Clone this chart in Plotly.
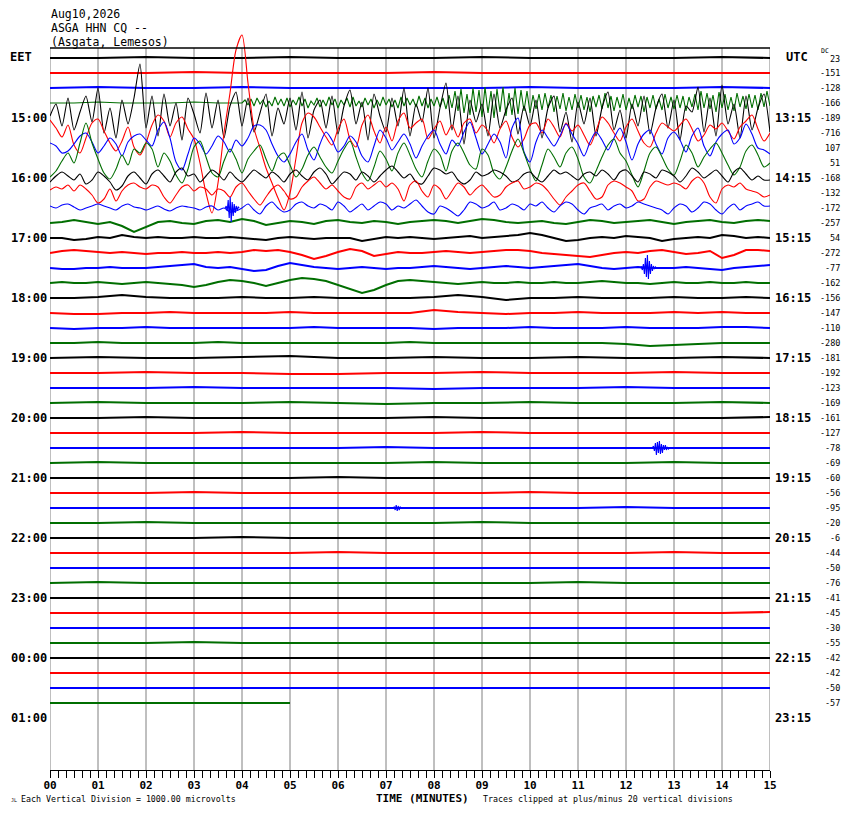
import numpy as np
import plotly.graph_objects as go

# header / label text
station_date = "Aug10,2026"
station_code = "ASGA HHN CQ --"
station_name = "(Asgata, Lemesos)"
eet_labels = ["15:00", "16:00", "17:00", "18:00", "19:00", "20:00",
              "21:00", "22:00", "23:00", "00:00", "01:00"]
utc_labels = ["13:15", "14:15", "15:15", "16:15", "17:15", "18:15",
              "19:15", "20:15", "21:15", "22:15", "23:15"]
minute_labels = ["00", "01", "02", "03", "04", "05", "06", "07",
                 "08", "09", "10", "11", "12", "13", "14", "15"]
dc_offsets = [23, -151, -128, -166, -189, -716, 107, 51, -168, -132, -172,
              -257, 54, -272, -77, -162, -156, -147, -110, -280, -181, -192,
              -123, -169, -161, -127, -78, -69, -60, -56, -95, -20, -6, -44,
              -50, -76, -41, -45, -30, -55, -42, -42, -50, -57]

# trace samples (pixels of deflection, up = positive)
row_00 = [0, 0, 1, 0, 0, 1, 0, 0, 0, 1, 0, 0, 0, 0, 1, 0]
row_01 = [0, 0, 0, 1, 0, 0, 0, 0, 1, 0, 0, 0, 0, 0, 0, 0]
row_02 = [0, 1, 0, 0, 1, 0, 0, 0, 0, 0, 1, 0, 0, 0, 1, 0]
row_03_quiet = [0, 0, 1, 0, 0, 0, 1, 0, 0]
row_03_noise = [
    0, 3, -2, 4, -3, 5, -1, 3, -4, 2, -3, 6, -2, 4, -3, 5,
    -4, 3, -2, 6, -3, 4, -5, 2, -2, 5, -4, 3, -3, 6, -2, 4,
    -5, 3, -2, 5, -4, 6, -3, 2, -4, 5, -2, 4, -5, 3, -3, 6,
    -2, 4, -4, 3, -5, 6, -3, 5, -2, 4, -4, 7, -3, 5, -5, 4,
    -3, 6, -4, 5, -6, 8, -5, 12, -8, 14, -10, 9, -12, 15, -9, 13,
    -14, 16, -10, 12, -15, 14, -9, 16, -13, 10, -12, 15, -11, 13, -8, 12,
    -10, 8, -6, 9, -7, 10, -5, 8, -9, 7, -6, 10, -8, 6, -7, 9,
    -5, 8, -7, 6, -9, 7, -4, 8, -6, 10, -5, 7, -8, 6, -5, 9,
    -7, 5, -6, 8, -4, 7, -9, 6, -5, 8, -6, 4, -7, 9, -5, 6,
    -6, 8, -5, 7, -8, 6, -4, 9, -7, 12, -5, 10, -6, 8, -9, 11,
    -5, 9, -7, 6, -8, 10, -4, 7, -6, 9, -5, 8, -7, 10, -4, 12,
    -3]
row_04 = [
    2, 14, -8, 20, -12, 6, 22, -4,
    30, -15, 10, -20, 18, -6, 20, 54,
    -10, 22, -18, 24, -8, 15, -22, 20,
    4, -15, 25, -10, 18, -20, 12, 26,
    -8, 20, -14, 5, 24, -18, 10, -6,
    20, -12, 26, -20, 8, 18, -10, 22,
    -16, 12, 28, -6, 16, -22, 24, 2,
    -14, 20, -8, 30, -18, 14, -4, 30,
    -20, 10, 35, -12, 22, -26, 18, -4,
    14, -18, 24, -10, 8, 20, -16, 12,
    -8, 18, -20, 10, 22, -14, 6, -24,
    16, -6, 20, -18, 10, 26, -12, 8,
    -20, 14, -8, 22, -16, 10, 24, -10,
    18, -22, 12, 6, 31, -14, 20, -18,
    33, -6, 14, -20, 22, -12, 10, 24,
    -14]
row_05 = [
    13, 5, -4, 8, -12, -20, -5, 10,
    14, 2, -10, -18, -8, 6, -14, -22,
    -10, 8, 18, 12, -4, 10, 16, 4,
    -6, -30, -60, -80, -50, 0, 40, 83,
    98, 50, 5, -15, -35, -50, -65, -77,
    -60, -25, 10, 20, 16, 6, -4, -12,
    4, 14, -6, -14, 8, 18, 2, -10,
    6, -8, 12, 20, 5, 10, 14, -6,
    4, 12, -2, 8, -4, 10, 14, 0,
    8, 2, -10, 4, 12, -4, -14, -6,
    8, 10, 0, 14, 6, -4, 10, 2,
    8, -2, -12, 2, 16, 10, 0, -8,
    6, 14, 2, -10, -14, 0, 10, 6,
    2, 8, 14, 4, -8, -2, 8, 4,
    10, 2, -6, 6, 12, 18, 4, -8,
    0]
row_06 = [
    5, 2, -5, -3, 4, 12, 15, 6,
    -5, 2, 10, 4, -8, 6, 12, 14,
    8, 2, 18, 26, 10, -14, -22, -6,
    10, 4, -6, 2, 12, 6, -4, 8,
    2, 10, 22, 23, 18, 4, -8, -14,
    -6, 6, 14, -2, -12, 4, 16, 8,
    -4, 2, 12, 6, -8, -14, 2, 18,
    10, -2, 6, 14, 4, -10, 2, 12,
    18, 4, -6, 8, 2, 16, 26, 10,
    -6, 4, 14, 6, -10, 20, 30, -4,
    -14, 6, 18, 10, 2, 12, 24, 14,
    4, -8, 6, 16, 8, -2, 10, 20,
    6, -12, 4, 14, 18, 4, -6, 10,
    16, 8, -4, 12, 20, 2, -8, 6,
    14, 18, 4, 10, 24, 14, 0, -2,
    -6]
row_07 = [
    -14, -8, 2, 10, 0, 20, 40, 20,
    4, -10, -16, -6, 8, -2, 14, 10,
    20, 14, -4, 10, 2, -12, -20, -6,
    16, 22, 6, -10, -14, 2, 14, 4,
    -10, 4, 12, 18, 4, -8, 6, 10,
    -2, -14, -6, 8, 16, 6, -4, -10,
    2, 14, 22, 6, -10, -18, -4, 12,
    4, -8, 10, 20, 8, -6, -14, 2,
    14, 8, -8, 12, 20, 10, -2, -6,
    14, 8, -10, -16, -4, 12, 24, 10,
    -6, -18, -2, 14, 6, -4, 10, 16,
    4, -14, -20, -8, 6, 18, 24, 10,
    2, -12, -24, -8, 10, 16, 6, -6,
    -12, 2, 18, 10, -4, 6, 14, 20,
    10, -2, -12, -4, 12, 18, 8, -4,
    0]
row_08 = [
    -4, 2, 6, 2, -2, 4, -6, -2,
    6, 2, -4, -12, -8, 2, 6, 0,
    -6, 4, 8, 2, -4, 6, 10, 2,
    4, -4, 2, 8, 4, -2, 6, 0,
    -4, 2, 8, 4, 0, 6, 2, -4,
    4, 8, 2, -2, 6, 10, 4, -6,
    0, 6, 4, -2, 6, 2, -4, 2,
    8, 12, 6, 0, 4, -4, -6, 2,
    10, 8, 4, 6, -2, -6, -2, 6,
    2, 4, 8, 6, 2, -4, -2, 4,
    6, 0, -4, 2, 8, 4, 6, 2,
    -2, 4, 6, 2, 8, 4, -2, 6,
    8, 2, -4, 6, 4, 0, 8, 6,
    2, -4, 2, 10, 6, 0, 4, 8,
    2, -4, 6, 10, 4, -2, 2, -2,
    -2]
row_09 = [
    3, 6, 4, 8, 2, 8, 4, -2,
    -10, -6, 4, -8, 2, 8, 10, 6,
    4, 8, 6, -4, -10, -2, 6, 8,
    2, 6, 4, -2, 4, 2, -4, 6,
    10, 2, -6, -12, -4, 4, 8, 2,
    -6, -4, 6, 12, 16, 10, 4, 8,
    2, -4, -6, 6, 10, 4, 8, 12,
    6, 10, 4, -8, 8, 12, 2, -4,
    8, 4, -6, 2, 10, 6, -2, 4,
    8, 2, -4, -2, 6, 10, 12, 4,
    6, 10, 8, 2, -6, -12, -4, 2,
    8, 10, 2, -6, -4, 8, 12, 10,
    6, 2, -8, -6, 6, 12, 10, 8,
    10, 8, 4, 12, 16, 10, -4, -10,
    4, 8, 6, 10, 4, 2, 0, -4,
    -2]
row_10 = [
    2, 0, 3, 4, 1, -2, 0, 2,
    4, 2, 0, -2, 2, 4, 1, 0,
    -2, 0, 2, -1, -3, 0, 2, 1,
    0, -2, 1, 2, -2, 0, -4, -3,
    0, 4, -2, -6, 2, 6, 0, -4,
    -2, 4, 6, 2, 0, 4, 2, -2,
    6, 2, -4, 0, 4, -2, 2, 6,
    4, -2, 2, 0, 4, 8, 2, -4,
    -6, 2, 0, -4, -8, -2, 6, 4,
    0, 2, 6, -2, 0, 4, 2, -2,
    4, 2, 6, 0, -4, 2, 6, 4,
    -2, -6, 0, 2, 4, -2, 2, 4,
    0, 2, 6, 4, 2, 0, -2, -6,
    0, 4, 2, -4, 0, 6, 4, -2,
    -6, 0, 4, -2, 2, 4, 6, 2,
    2]
row_11 = [0, 1, 3, 1, -1, 1, -3, -9, -4, 1,
          2, 0, -1, 2, 3, 1, 4, 2, -2, 0,
          2, 1, -1, 2, 3, 1, 0, 2, 1, -1,
          1, 2, 3, 2, 0, 2, 4, 3, 1, 0,
          1, 2, 0, -1, 1, 3, 2, 0, 1, 2,
          3, 1, -1, 1, 2, 3, 1, 0, 2, 3, 2]
row_12 = [0, 0, -2, -1, 1, 0, 3, 1, 0, 1,
          0, 0, 1, 0, 0, 1, 0, -1, -2, 0,
          1, 0, -1, 0, 0, 0, -3, -1, 1, 0,
          1, 0, -1, 0, 1, 2, 0, 1, 2, 3,
          5, 3, 0, -3, -2, 0, 1, 0, 2, 1,
          0, -3, -1, 0, 1, 0, 3, 2, 0, 1, 0]
row_13 = [0, 2, 3, 2, 1, 0, 1, 0, -1, 0,
          0, 1, 0, 0, 1, 0, 1, 3, 2, 3,
          1, -2, -6, -3, 1, 4, 2, -3, -1, 1,
          0, 0, 1, 2, 1, 0, 1, 2, 3, 3,
          2, 0, -1, -2, -3, -4, -2, 0, 1, 0,
          2, 3, 1, -1, 0, 2, -5, -2, 3, 3, 2]
row_14 = [0, -1, -1, 0, 0, 1, 0, 0, 0, 1,
          2, 3, 4, 1, 0, 1, -1, -3, -2, 2,
          5, 3, 1, 0, -1, 0, 1, 0, -1, 0,
          0, 1, 2, 1, 0, -1, 0, 1, 2, 1,
          0, 1, 2, 3, 4, 2, 0, -1, 0, 1,
          0, 0, 0, 1, 0, -1, -2, 0, 1, 2, 3]
row_15 = [0, 1, 0, 0, 1, 0, -1, 0, 1, 0,
          -1, -2, -4, -2, 1, 3, 2, 0, -3, 0,
          3, 5, 4, 2, -2, -6, -10, -7, -2, 2,
          3, 2, 1, 0, -1, 0, 1, 0, 0, 1,
          0, 0, 1, 0, 0, 1, 2, 1, 0, 0,
          -1, 0, 1, 0, 0, 1, 0, 0, 1, 0, 0]
row_16 = [0, 0, 1, 3, 1, 0, 0, 0, 1, 0, 0, 1, 0, 0, 0, 0,
          1, 3, 1, -2, 0, 0, 1, 0, 0, 0, 1, 0, 0, 1, 0]
row_17 = [0, -1, -1, 0, 0, 1, 0, 0, 0, 0, 1, 0, 0, 0, 0, 0,
          3, 1, 0, -1, 0, 0, 1, 0, 0, 0, 1, 0, 1, 0, 0]
row_18 = [0, -1, 0, 0, 1, 0, 0, 0, 0, 0, 0, 1, 0, 0, 0, 0,
          -1, 0, 0, 0, 1, 0, 0, 0, 1, 0, 0, 0, 1, 1, 0]
row_19 = [0, 0, 1, 0, 0, 0, 0, 1, 0, 0, 0, 0, 0, 0, 0, 1,
          0, 0, 0, 0, 0, 0, 0, 0, -1, -3, -2, -1, 0, 0, 0]
row_20 = [0, 1, 0, 0, 1, 2, 0, 0, 1, 0, 0, 1, 0, 0, 1, 0]
row_21 = [0, 0, 1, 0, 0, -1, -1, 0, 0, 1, 0, 0, 0, 1, 0, 0]
row_22 = [0, 0, 0, 1, 0, 0, 0, 0, -1, 0, 0, 0, 1, 0, 0, 0]
row_23 = [0, 1, 0, 0, 0, 1, 0, -1, 0, 0, 1, 0, 0, 0, 1, 0]
row_24 = [0, 0, 1, 0, 0, 0, 0, 0, 1, 0, 0, 0, 0, 0, 0, 1]
row_25 = [0, 0, 0, 0, 1, 0, 0, 0, 0, 1, 0, 0, 0, 0, 0, 0]
row_26 = [0, 0, 0, 0, 0, 0, 0, 1, 0, 0, 0, 0, 0, 0, 0, 0]
row_27 = [0, 1, 0, 0, 0, 0, 0, 0, 1, 0, 0, 0, 0, 1, 0, 0]
row_28 = [0, 0, 0, 0, 0, 0, 1, 0, 0, 0, 0, 0, 0, 0, 0, 0]
row_29 = [0, 0, 0, 1, 0, 0, 0, 0, 0, 0, 1, 0, 0, 0, 0, 0]
row_30 = [0, 0, 0, 0, 0, 0, 0, 0, 0, 0, 0, 0, 1, 0, 0, 0]
row_31 = [0, 0, 1, 0, 0, 0, 0, 0, 0, 1, 0, 0, 0, 0, 0, 0]
row_32 = [0, 0, 0, 0, 1, 0, 0, 0, 0, 0, 0, 0, 0, 0, 0, 0]
row_33 = [0, 0, 0, 0, 0, 0, 1, 0, 0, 0, 0, 0, 0, 1, 0, 0]
row_34 = [0, 0, 0, 0, 0, 0, 0, 0, 0, 0, 0, 0, 0, 0, 0, 0]
row_35 = [0, 1, 0, 0, 0, 0, 0, 0, 0, 0, 0, 1, 0, 0, 0, 0]
row_36 = [0, 0, 0, 0, 0, 0, 0, 0, 0, 0, 0, 0, 0, 0, 0, 0]
row_37 = [0, 0, 0, 0, 0, 0, 0, 0, 0, 0, 0, 0, 0, 0, 0, 1]
row_38 = [0, 0, 0, 0, 0, 0, 0, 0, 0, 0, 0, 0, 0, 0, 0, 0]
row_39 = [0, 0, 0, 1, 0, 0, 0, 0, 0, 0, 0, 0, 0, 0, 0, 0]
row_40 = [0, 0, 0, 0, 0, 0, 0, 0, 0, 0, 0, 0, 0, 0, 0, 0]
row_41 = [0, 0, 0, 0, 0, 0, 0, 0, 0, 0, 0, 0, 0, 0, 0, 0]
row_42 = [0, 0, 0, 0, 0, 0, 0, 0, 0, 0, 0, 0, 0, 0, 0, 0]
row_43 = [0, 0, 0, 0, 0, 0]   # trace stops at minute 5
last_row_minutes = 5.0

# short local events: (row, start minute, samples at 1/48 min)
event_rows = [10, 14, 26, 30]
event_starts = [3.65, 12.3, 12.55, 7.15]
event_samples = [
    [0, 2, -3, 8, -10, 11, -14, 6, -8, 4, -5, 2, -2, 1, 0],
    [0, 1, -2, 4, -6, 10, -9, 13, -11, 7, -6, 4, -3, 2, -1, 1, 0],
    [0, 2, -3, 5, -7, 6, -5, 7, -6, 4, -5, 3, -2, 3, -2, 1, -1, 0],
    [0, 1, -2, 3, -3, 2, -2, 1, 0],
]

rows = [row_00, row_01, row_02, None, row_04, row_05, row_06, row_07,
        row_08, row_09, row_10, row_11, row_12, row_13, row_14, row_15,
        row_16, row_17, row_18, row_19, row_20, row_21, row_22, row_23,
        row_24, row_25, row_26, row_27, row_28, row_29, row_30, row_31,
        row_32, row_33, row_34, row_35, row_36, row_37, row_38, row_39,
        row_40, row_41, row_42, row_43]

colors = ["black", "red", "blue", "#006e00"]
FONT = "DejaVu Sans Mono"
ROW0 = 58      # page pixel row of first trace
GAP = 15       # pixels between traces
# the page has an 8px body margin, so the figure is drawn 8px in from the edge
PAGE_PAD = 8
FIG_W, FIG_H = 850 - 2 * PAGE_PAD, 814 - 2 * PAGE_PAD
PLOT_L, PLOT_R, PLOT_T, PLOT_B = 50, 770, 8, 770


def px_paper_x(px):
    return (px - PLOT_L) / (PLOT_R - PLOT_L)


def px_paper_y(py):
    return (PLOT_B - py) / (PLOT_B - PLOT_T)


fig = go.Figure()

for i, vals in enumerate(rows):
    base = ROW0 + GAP * i
    busy = 3 <= i <= 10
    if i == 3:
        x = np.concatenate([np.linspace(0, 4, len(row_03_quiet))[:-1],
                            np.linspace(4, 15, len(row_03_noise))])
        v = np.array(row_03_quiet[:-1] + row_03_noise)
    else:
        end = last_row_minutes if i == len(rows) - 1 else 15
        x = np.linspace(0, end, len(vals))
        v = np.array(vals)
    smooth = 4 <= i <= 10
    fig.add_trace(go.Scatter(
        x=x, y=base - v, mode="lines",
        line=dict(color=colors[i % 4], width=1.1 if busy else 2,
                  shape="spline" if smooth else "linear",
                  smoothing=0.6 if i == 4 else 0.8),
        hoverinfo="skip"))

for r, t0, s in zip(event_rows, event_starts, event_samples):
    fig.add_trace(go.Scatter(
        x=t0 + np.arange(len(s)) / 48.0, y=ROW0 + GAP * r - np.array(s),
        mode="lines", line=dict(color=colors[r % 4], width=1.1),
        hoverinfo="skip"))

shapes = []
for m in range(16):
    shapes.append(dict(type="line", xref="x", yref="y", x0=m, x1=m,
                       y0=48, y1=770, layer="below",
                       line=dict(color="#808080", width=1)))
shapes.append(dict(type="line", xref="x", yref="y", x0=0, x1=15, y0=48, y1=48,
                   line=dict(color="black", width=1.5)))

ann = []


def label(px, py, text, size, bold=False, anchor="left"):
    ann.append(dict(x=px_paper_x(px), y=px_paper_y(py), xref="paper",
                    yref="paper", text=text, showarrow=False,
                    xanchor=anchor, yanchor="middle",
                    font=dict(family=FONT, size=size, color="black",
                              weight="bold" if bold else "normal")))


label(49, 14, station_date, 11.5)
label(49, 28, station_code, 11.5)
label(49, 42, station_name, 11.5)
label(8, 57, "EET", 12, True)
label(784, 57, "UTC", 12, True)
label(819, 51, "DC", 6.5)

for k, (le, ri) in enumerate(zip(eet_labels, utc_labels)):
    y = ROW0 + GAP * (4 + 4 * k)
    label(49, y, le, 12, True, "right")
    label(773, y, ri, 12, True)

for i, dc in enumerate(dc_offsets):
    label(842, ROW0 + GAP * i + (1 if i == 0 else 0), str(dc), 8.5,
          anchor="right")

label(422, 798, "TIME (MINUTES)", 11, True, "center")
label(19, 799, "Each Vertical Division = 1000.00 microvolts", 8.3)
label(481, 799, "Traces clipped at plus/minus 20 vertical divisions", 8.3)
label(9, 800, "JL", 5)

fig.update_layout(
    width=FIG_W, height=FIG_H,
    margin=dict(l=PLOT_L - PAGE_PAD, r=FIG_W + PAGE_PAD - PLOT_R,
                t=PLOT_T - PAGE_PAD, b=FIG_H + PAGE_PAD - PLOT_B),
    plot_bgcolor="white", paper_bgcolor="white",
    showlegend=False,
    shapes=shapes, annotations=ann,
    xaxis=dict(range=[0, 15], showgrid=False, zeroline=False, showline=True,
               linecolor="black", linewidth=1, ticks="outside", ticklen=7,
               tickcolor="black", tickvals=list(range(16)),
               ticktext=minute_labels, automargin=False,
               ticklabelstandoff=-2,
               tickfont=dict(family=FONT, size=11, color="black",
                             weight="bold"),
               minor=dict(dtick=1 / 6, tick0=0, ticks="outside", ticklen=7,
                          tickcolor="black", showgrid=False)),
    yaxis=dict(range=[PLOT_B, PLOT_T], visible=False, automargin=False),
)

fig.write_html("out.html")
